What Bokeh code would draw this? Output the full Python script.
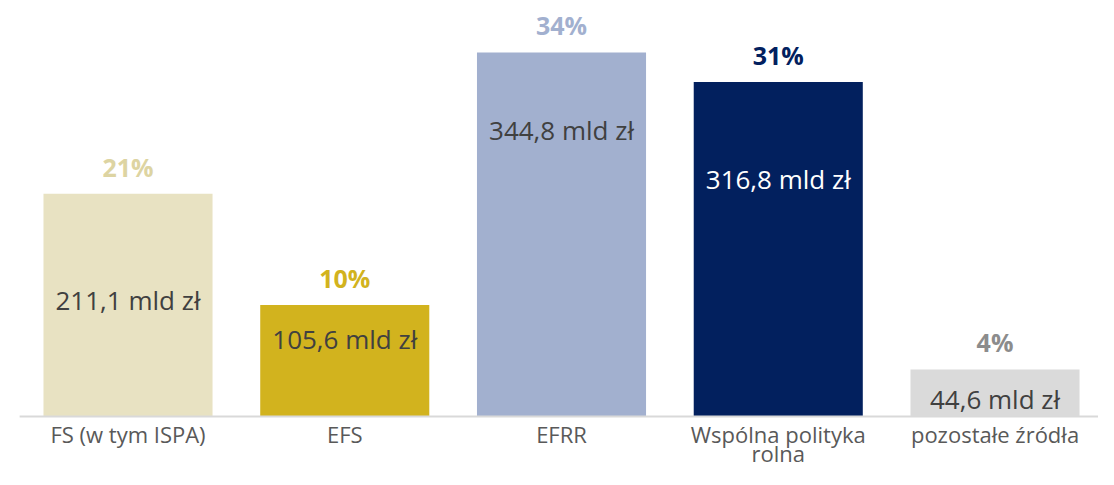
from bokeh.plotting import figure
from bokeh.models import ColumnDataSource, FactorRange, Range1d
from bokeh.transform import dodge
from bokeh.core.properties import value
from bokeh.embed import file_html
from bokeh.resources import INLINE

categories = ["FS (w tym ISPA)", "EFS", "EFRR", "Wspólna polityka\nrolna", "pozostałe źródła"]
amounts = [211.1, 105.6, 344.8, 316.8, 44.6]
shares = ["21%", "10%", "34%", "31%", "4%"]
amount_labels = ["211,1 mld zł", "105,6 mld zł", "344,8 mld zł", "316,8 mld zł", "44,6 mld zł"]

# styling / layout
bar_colors = ["#e8e2c2", "#d2b31e", "#a2b0cf", "#02205e", "#dadada"]
share_colors = ["#ddd4a2", "#d2b31e", "#a2b0cf", "#02205e", "#8c8c8c"]
amount_colors = ["#404040", "#404040", "#404040", "#ffffff", "#404040"]
amount_label_pos = [110, 73, 271, 225, 17]

FONT = "Open Sans"
W, H = 1098, 469
PX_PER_UNIT = 1.0557     # vertical scale (px per mld zł)
BASE_PX = 416            # baseline pixel row from top
SHIFT = 0.0554           # horizontal shift of category centres
LINE1_PX, LINE2_PX = 433, 452   # category label rows (px from top)

line1 = [c.split("\n")[0] for c in categories]
line2 = [c.split("\n")[1] if "\n" in c else "" for c in categories]

src = ColumnDataSource(dict(
    cat=categories, amt=amounts, share=shares, lab=amount_labels,
    bc=bar_colors, sc=share_colors, ac=amount_colors, ly=amount_label_pos,
    l1=line1, l2=line2,
    y1=[-(LINE1_PX - BASE_PX) / PX_PER_UNIT] * len(categories),
    y2=[-(LINE2_PX - BASE_PX) / PX_PER_UNIT] * len(categories),
))

xr = FactorRange(*categories, range_padding=0.01314, range_padding_units="percent")
yr = Range1d(-(H - BASE_PX) / PX_PER_UNIT, BASE_PX / PX_PER_UNIT)

p = figure(width=W, height=H, output_backend="svg", toolbar_location=None,
           x_range=xr, y_range=yr, x_axis_type=None, y_axis_type=None,
           min_border_left=0, min_border_right=0,
           min_border_top=0, min_border_bottom=0)
p.outline_line_color = None
p.grid.visible = False
p.background_fill_color = "white"
p.border_fill_color = "white"

xc = dodge("cat", SHIFT, range=xr)

p.vbar(x=xc, top="amt", bottom=0, width=0.78, fill_color="bc",
       line_color=None, source=src)

base_src = ColumnDataSource(dict(x0=[categories[0]], x1=[categories[-1]], y=[0]))
p.segment(x0=dodge("x0", SHIFT - 0.5, range=xr), x1=dodge("x1", SHIFT + 0.5, range=xr),
          y0="y", y1="y", line_color="#d9d9d9", line_width=2, source=base_src)

p.text(x=xc, y="amt", text="share", source=src, text_color="sc",
       text_font=value(FONT), text_font_style="bold", text_font_size="25px",
       text_align="center", text_baseline="middle", y_offset=-27)

p.text(x=xc, y="ly", text="lab", source=src, text_color="ac",
       text_font=value(FONT), text_font_size="26px",
       text_align="center", text_baseline="middle")

for col, yc in (("l1", "y1"), ("l2", "y2")):
    p.text(x=xc, y=yc, text=col, source=src, text_color="#595959",
           text_font=value(FONT), text_font_size="22px",
           text_align="center", text_baseline="middle")

open("out.html", "w").write(file_html(p, INLINE))
